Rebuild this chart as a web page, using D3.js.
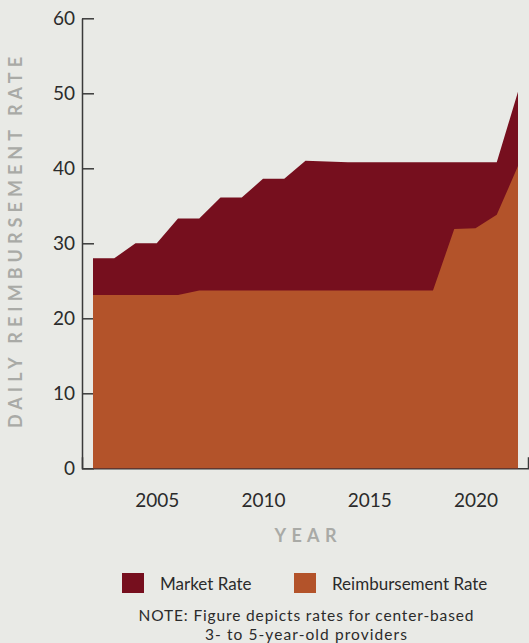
<!DOCTYPE html>
<html>
<head>
<meta charset="utf-8">
<script src="https://cdn.jsdelivr.net/npm/d3@7"></script>
<style>
  html, body { margin: 0; padding: 0; background: #e9eae6; }
  svg { display: block; }
  text { font-family: Lato, "Open Sans", sans-serif; }
</style>
</head>
<body>
<svg id="chart" width="529" height="643"></svg>
<script>
// Daily rates for center-based 3- to 5-year-old providers
const years = [2002, 2003, 2004, 2005, 2006, 2007, 2008, 2009, 2010, 2011, 2012,
               2013, 2014, 2015, 2016, 2017, 2018, 2019, 2020, 2021, 2022];
const marketRate = [28.0, 28.0, 30.0, 30.0, 33.3, 33.3, 36.1, 36.1, 38.6, 38.6, 41.0,
                    40.9, 40.8, 40.8, 40.8, 40.8, 40.8, 40.8, 40.8, 40.8, 50.2];
const reimbursementRate = [23.1, 23.1, 23.1, 23.1, 23.1, 23.7, 23.7, 23.7, 23.7, 23.7, 23.7,
                           23.7, 23.7, 23.7, 23.7, 23.7, 23.7, 31.9, 32.0, 33.8, 40.3];
const yTicks = [0, 10, 20, 30, 40, 50, 60];
const xTicks = [2005, 2010, 2015, 2020];
const seriesNames = ["Market Rate", "Reimbursement Rate"];
const colors = ["#760f1e", "#b3532a"];
const noteLines = ["NOTE: Figure depicts rates for center-based", "3- to 5-year-old providers"];

const svg = d3.select("#chart");

const x = d3.scaleLinear().domain([2002, 2022]).range([93, 518]);
const y = d3.scaleLinear().domain([0, 60]).range([468.3, 18.3]);

// Axis frame: vertical axis at the left edge, baseline extends slightly past the plot
const xAxisScale = x.copy().domain([x.invert(82), x.invert(528)]).range([82, 528]);

const xAxis = svg.append("g")
  .attr("transform", `translate(0,${y(0)})`)
  .call(d3.axisBottom(xAxisScale).tickValues(xTicks).tickFormat(d3.format("d"))
        .tickSizeInner(0).tickSizeOuter(-11).tickPadding(25));
xAxis.select(".domain").attr("stroke", "#3a3a3a").attr("stroke-width", 1.5);
xAxis.selectAll("text").attr("font-size", 19).attr("fill", "#2b2b2b");

const yAxis = svg.append("g")
  .attr("transform", `translate(82,0)`)
  .call(d3.axisLeft(y).tickValues(yTicks).tickSizeInner(-12).tickSizeOuter(0).tickPadding(7));
yAxis.select(".domain").attr("stroke", "#3a3a3a").attr("stroke-width", 1.5);
yAxis.selectAll(".tick line").attr("stroke", "#3a3a3a").attr("stroke-width", 1.5);
yAxis.selectAll("text").attr("font-size", 19).attr("fill", "#2b2b2b");

// Overlapping areas: market rate behind, reimbursement rate in front
const data = years.map((yr, i) => ({ year: yr, market: marketRate[i], reimb: reimbursementRate[i] }));

const areaMarket = d3.area().x(d => x(d.year)).y0(y(0)).y1(d => y(d.market));
const areaReimb = d3.area().x(d => x(d.year)).y0(y(0)).y1(d => y(d.reimb));

svg.append("path").datum(data).attr("d", areaMarket).attr("fill", colors[0]);
svg.append("path").datum(data).attr("d", areaReimb).attr("fill", colors[1]);

// Axis titles
svg.append("text")
  .attr("transform", `translate(22,${(57 + 428) / 2}) rotate(-90)`)
  .attr("text-anchor", "middle")
  .attr("font-size", 18)
  .attr("font-weight", "bold")
  .attr("fill", "#a9aaa6")
  .attr("textLength", 371)
  .attr("lengthAdjust", "spacing")
  .text("DAILY REIMBURSEMENT RATE");

svg.append("text")
  .attr("x", (x(2002) + x(2022)) / 2)
  .attr("y", 542)
  .attr("text-anchor", "middle")
  .attr("font-size", 18)
  .attr("font-weight", "bold")
  .attr("fill", "#a9aaa6")
  .attr("textLength", 62)
  .attr("lengthAdjust", "spacing")
  .text("YEAR");

// Legend
const legendItems = [
  { name: seriesNames[0], color: colors[0], sx: 122, tx: 160 },
  { name: seriesNames[1], color: colors[1], sx: 294, tx: 332 }
];
const lg = svg.append("g");
legendItems.forEach(it => {
  lg.append("rect").attr("x", it.sx).attr("y", 573).attr("width", 22).attr("height", 20).attr("fill", it.color);
  lg.append("text").attr("x", it.tx).attr("y", 590).attr("font-size", 17).attr("fill", "#2b2b2b").text(it.name);
});

// Note, two centred lines
const noteWidths = [335, 202];
noteLines.forEach((line, i) => {
  svg.append("text")
    .attr("x", 306)
    .attr("y", 621 + i * 19)
    .attr("text-anchor", "middle")
    .attr("font-size", 15.5)
    .attr("fill", "#2b2b2b")
    .attr("textLength", noteWidths[i])
    .attr("lengthAdjust", "spacing")
    .text(line);
});
</script>
</body>
</html>
